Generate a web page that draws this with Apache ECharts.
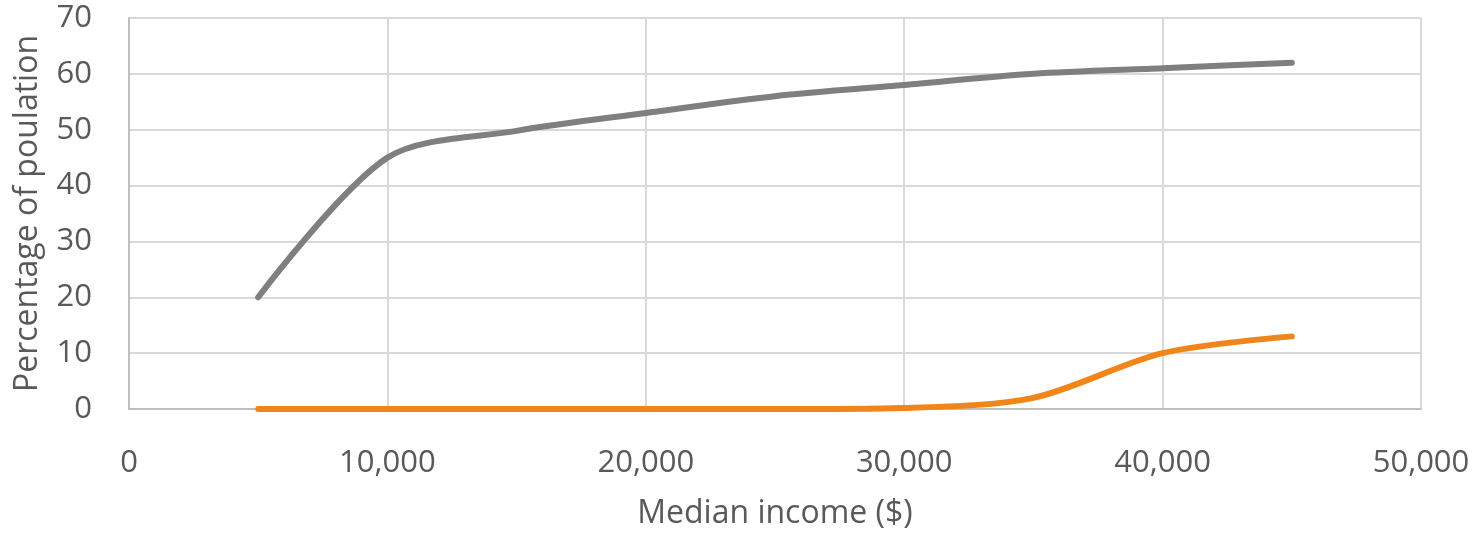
<!DOCTYPE html>
<html>
<head>
<meta charset="utf-8">
<script src="https://cdn.jsdelivr.net/npm/echarts@6/dist/echarts.min.js"></script>
<style>
  html, body { margin: 0; padding: 0; background: #fff; overflow: hidden; }
  #chart { width: 1478px; height: 535px; }
</style>
</head>
<body>
<div id="chart"></div>
<script>
// Median income ($) at each sample point
const incomes = [5000, 10000, 15000, 20000, 25000, 30000, 35000, 40000, 45000];
// Percentage of population, two series
const grayValues = [20, 45, 49.8, 53, 56, 58, 60, 61, 62];
const orangeValues = [0, 0, 0, 0, 0, 0.2, 2, 10, 13];

const textColor = '#595959';
const font = '"Open Sans", Lato, sans-serif';

const chart = echarts.init(document.getElementById('chart'));
chart.setOption({
  animation: false,
  grid: { left: 129, top: 18, width: 1292, height: 399 },
  xAxis: {
    type: 'value',
    min: 0, max: 50000, interval: 10000,
    name: 'Median income ($)',
    nameLocation: 'middle',
    nameGap: 89,
    nameTextStyle: { color: textColor, fontSize: 32, fontFamily: font },
    axisLine: { show: true, lineStyle: { color: '#bfbfbf', width: 2 } },
    axisTick: { show: false },
    splitLine: { show: true, lineStyle: { color: '#d9d9d9', width: 2 } },
    axisLabel: {
      color: textColor, fontSize: 31, fontFamily: font, margin: 39,
      formatter: v => v.toLocaleString('en-US')
    }
  },
  yAxis: {
    type: 'value',
    min: 0, max: 70, interval: 10,
    name: 'Percentage of poulation',
    nameLocation: 'middle',
    nameGap: 85,
    nameTextStyle: { color: textColor, fontSize: 32, fontFamily: font },
    axisLine: { show: true, lineStyle: { color: '#bfbfbf', width: 2 } },
    axisTick: { show: false },
    splitLine: { show: true, lineStyle: { color: '#d9d9d9', width: 2 } },
    axisLabel: {
      color: textColor, fontSize: 31, fontFamily: font, margin: 37,
      padding: [4, 0, 0, 0]
    }
  },
  series: [
    {
      type: 'line',
      data: incomes.map((x, i) => [x, grayValues[i]]),
      smooth: 0.3,
      showSymbol: false,
      lineStyle: { color: '#7f7f7f', width: 6, cap: 'round', join: 'round' }
    },
    {
      type: 'line',
      data: incomes.map((x, i) => [x, orangeValues[i]]),
      smooth: 0.3,
      showSymbol: false,
      lineStyle: { color: '#f0861a', width: 6, cap: 'round', join: 'round' }
    }
  ]
});
</script>
</body>
</html>
